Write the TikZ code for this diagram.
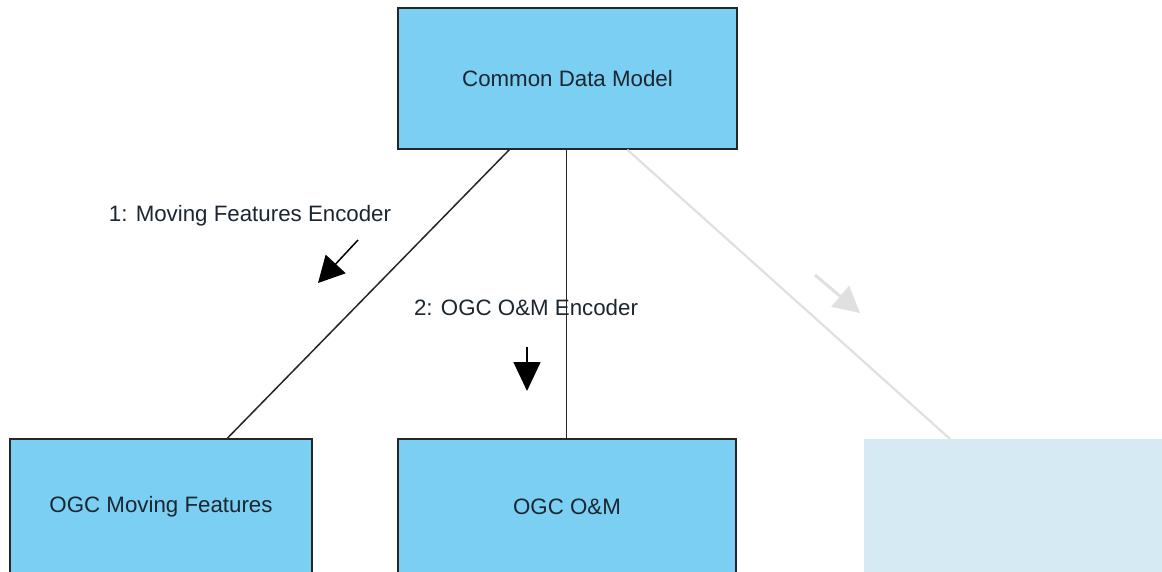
\documentclass[tikz,border=0pt]{standalone}
\usepackage{fontspec}
\setmainfont{Liberation Sans}
\usetikzlibrary{arrows.meta,calc}
\definecolor{boxblue}{HTML}{7ACFF3}
\definecolor{paleblue}{HTML}{D6EAF3}
\definecolor{faint}{HTML}{E0E0E0}
\definecolor{txt}{HTML}{1B2630}
\tikzset{
  cls/.style={draw=black!85, line width=1.4pt, fill=boxblue, minimum width=#1, minimum height=136pt, inner sep=0pt, text=txt, font=\fontsize{22.3}{25}\selectfont},
  ghost/.style={fill=paleblue, draw=none, minimum width=#1, minimum height=136pt, inner sep=0pt},
  link/.style={line width=1.5pt, draw=black!85},
  fadelink/.style={line width=2.2pt, draw=faint},
  msg/.style={line width=1.5pt, -{Triangle[length=#1, width=27pt]}},
  lbl/.style={text=txt, font=\fontsize{22.3}{25}\selectfont, inner sep=0pt}
}
\begin{document}
\begin{tikzpicture}[x=1pt,y=-1pt]
\useasboundingbox (0,0) rectangle (1162,571);
\clip (0,0) rectangle (1162,571);
\fill[white] (0,0) rectangle (1162,571);
% nodes
\node[cls=339pt, minimum height=141pt] (cdm) at (567.5,78.5) {Common Data Model};
\node[cls=302pt] (omf) at (161,507) {OGC Moving Features};
\node[cls=338pt] (om) at (567,507) {OGC O\&M};
\node[ghost=310pt] (ext) at (1019,507) {};
% connectors
\draw[link] ($(cdm.south west)+(112,0)$) -- ($(omf.north west)+(218,0)$);
\draw[link] ($(cdm.south west)+(169,0)$) -- ($(om.north west)+(169,0)$);
\draw[fadelink] ($(cdm.south west)+(230,0)$) -- ($(ext.north west)+(86,0)$);
% message labels and arrows
\node[lbl] (l1) at (250,216) {1: Moving Features Encoder};
\coordinate (a1s) at (358,240);
\coordinate (a1e) at (318,283);
\draw[msg=26pt] (a1s) -- (a1e);
\node[lbl] (l2) at (526,308) {2: OGC O\&M Encoder};
\coordinate (a2s) at (527,347);
\coordinate (a2e) at (527,391);
\draw[msg=29pt] (a2s) -- (a2e);
\coordinate (a3s) at (815,275);
\coordinate (a3e) at (860,313);
\draw[msg=26pt, draw=faint, fill=faint, line width=3pt] (a3s) -- (a3e);
\end{tikzpicture}
\end{document}
